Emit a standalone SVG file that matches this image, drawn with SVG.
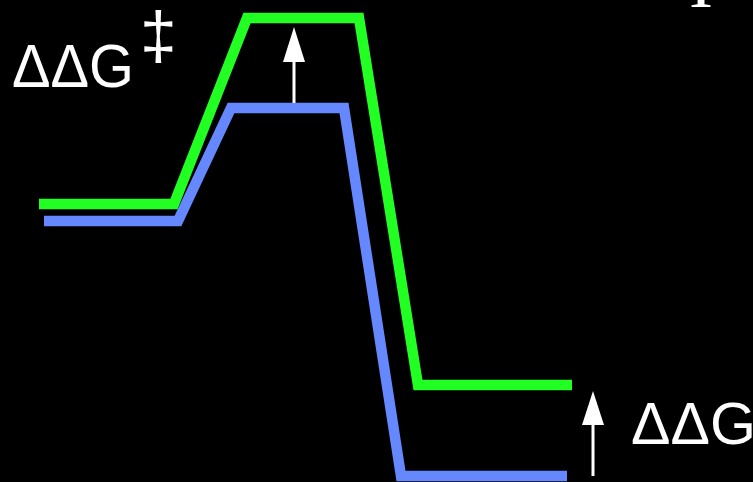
<svg xmlns="http://www.w3.org/2000/svg" width="753" height="482" viewBox="0 0 753 482">
<style>
.lbl{font-family:"Liberation Sans",Arial,sans-serif;fill:#fff}
.path{fill:none;stroke-width:10.5;stroke-linejoin:miter;stroke-linecap:butt}
.arr{stroke:#fff;stroke-width:3;fill:none}
.head{fill:#fff}
</style>
<rect width="753" height="482" fill="#000"/>
<g id="connectors">
<polyline id="blue-profile" class="path" stroke="#6688ff" points="44,221 178,221 231,108 344,108 401,476 567,476"/>
<polyline id="green-profile" class="path" stroke="#22ff22" points="39,204 174,204 247,18 359,18 418,385 572,385"/>
<line id="arrow-ts" class="arr" x1="294" y1="103" x2="294" y2="60"/>
<path class="head" d="M283,62 L294,27 L305,62 Z"/>
<line id="arrow-prod" class="arr" x1="593" y1="476" x2="593" y2="423"/>
<path class="head" d="M582,425 L593,391 L604,425 Z"/>
</g>
<g id="label-ddg-ts">
<text class="lbl" x="12" y="87" font-size="61" textLength="122" lengthAdjust="spacingAndGlyphs">ΔΔG</text>
<text class="lbl" x="140" y="58" font-size="66">‡</text>
</g>
<g id="label-ddg">
<text class="lbl" x="631" y="444" font-size="59" textLength="125" lengthAdjust="spacingAndGlyphs">ΔΔG</text>
</g>
<g id="cut-text">
<text x="689" y="7" font-family="'Liberation Serif','Times New Roman',serif" font-size="72" fill="#fff">I</text>
</g>
</svg>
